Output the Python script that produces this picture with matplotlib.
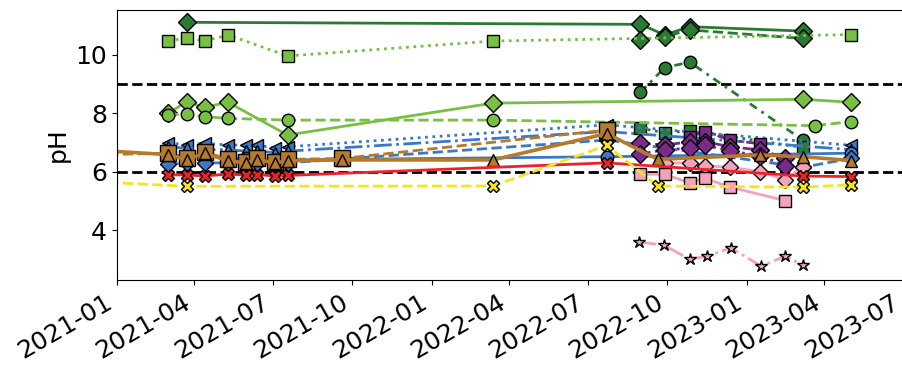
import pandas as pd
import numpy as np
import matplotlib
matplotlib.use('Agg')
import matplotlib.pyplot as plt
import matplotlib.dates as mdates

# sampling dates
spring21 = ['2021-03-02', '2021-03-23', '2021-04-13', '2021-05-10',
            '2021-05-31', '2021-06-13', '2021-07-04', '2021-07-18']
green21 = ['2021-03-02', '2021-03-23', '2021-04-13', '2021-05-10', '2021-07-18']
autumn22 = ['2022-08-31', '2022-09-28', '2022-10-27', '2022-11-14',
            '2022-12-13', '2023-01-17', '2023-02-15', '2023-03-07']

# pH per site
dg_dia_solid_d = ['2021-03-23', '2022-08-31', '2022-09-28', '2022-10-27', '2023-03-07']
dg_dia_solid = [11.1, 11.03, 10.67, 10.95, 10.8]
dg_dia_dash_d = ['2022-08-31', '2022-09-28', '2022-10-27', '2023-03-07']
dg_dia_dash = [10.5, 10.61, 10.84, 10.55]
dg_circ_d = ['2022-08-31', '2022-09-28', '2022-10-27', '2023-03-07']
dg_circ = [8.71, 9.55, 9.74, 7.08]
dg_sq_d = ['2022-08-31', '2022-09-28', '2022-10-27', '2023-03-07']
dg_sq = [7.48, 7.33, 7.4, 6.83]

lg_sq_d = green21 + ['2022-03-13', '2023-05-02']
lg_sq = [10.46, 10.57, 10.46, 10.67, 9.95, 10.46, 10.68]
lg_dia_d = green21 + ['2022-03-13', '2023-03-07', '2023-05-02']
lg_dia = [7.99, 8.39, 8.2, 8.37, 7.25, 8.34, 8.47, 8.37]
lg_circ_d = green21 + ['2022-03-13', '2023-03-21', '2023-05-02']
lg_circ = [7.94, 7.97, 7.88, 7.82, 7.76, 7.76, 7.57, 7.71]

bl_tri_d = spring21 + ['2022-07-23', '2023-05-02']
bl_tri = [6.99, 6.91, 6.97, 6.91, 6.91, 6.91, 6.8, 6.85, 7.6, 6.9]
bl_up_d = spring21 + ['2022-07-23', '2023-05-02']
bl_up = [6.85, 6.8, 6.75, 6.75, 6.7, 6.7, 6.65, 6.7, 7.37, 6.75]
bl_circ_d = spring21 + ['2022-07-23', '2023-05-02']
bl_circ = [6.6, 6.5, 6.55, 6.45, 6.45, 6.4, 6.4, 6.4, 6.51, 6.63]
bl_dia_d = spring21 + ['2022-07-23', '2023-03-07', '2023-05-02']
bl_dia = [6.25, 6.3, 6.3, 6.3, 6.25, 6.3, 6.25, 6.3, 7.08, 6.15, 6.45]

br_sq_d = ['2020-11-01'] + spring21 + ['2021-09-19', '2022-07-23']
br_sq = [6.55, 6.63, 6.46, 6.68, 6.42, 6.34, 6.46, 6.34, 6.42, 6.45, 7.42]
br_tri_d = (['2020-11-01'] + spring21 +
            ['2021-09-19', '2022-03-13', '2022-07-23', '2022-09-20',
             '2023-01-17', '2023-03-07', '2023-05-02'])
br_tri = [6.8, 6.58, 6.41, 6.63, 6.37, 6.3, 6.41, 6.3, 6.37,
          6.4, 6.4, 7.3, 6.42, 6.57, 6.51, 6.38]

red_d = spring21 + ['2022-07-23', '2023-03-07', '2023-05-02']
red = [5.89, 5.89, 5.85, 5.92, 5.88, 5.9, 5.85, 5.87, 6.3, 5.85, 5.83]
yel_d = ['2020-11-01', '2021-03-23', '2022-03-13', '2022-07-23',
         '2022-09-20', '2023-03-07', '2023-05-02']
yel = [5.71, 5.5, 5.51, 6.9, 5.51, 5.47, 5.55]

pu_dia_d = autumn22[:7]
pu_dia = [6.97, 6.91, 7.02, 7.02, 6.85, 6.74, 6.46]
pu_dia2_d = autumn22[:7]
pu_dia2 = [6.6, 6.75, 6.8, 6.9, 6.7, 6.55, 6.2]
pu_sq_d = ['2022-10-27', '2022-11-14', '2022-12-13', '2023-01-17']
pu_sq = [7.2, 7.37, 7.08, 6.95]

pk_sq_d = ['2022-08-31', '2022-09-28', '2022-10-27', '2022-11-14',
           '2022-12-13', '2023-02-15']
pk_sq = [5.91, 5.91, 5.62, 5.77, 5.47, 5.01]
pk_dia_d = ['2022-09-28', '2022-10-27', '2022-11-14', '2022-12-13',
            '2023-01-17', '2023-02-15', '2023-03-07']
pk_dia = [6.29, 6.3, 6.2, 6.15, 6.0, 5.72, 6.17]
pk_star_d = ['2022-08-29', '2022-09-27', '2022-10-27', '2022-11-16',
             '2022-12-14', '2023-01-18', '2023-02-15', '2023-03-07']
pk_star = [3.6, 3.49, 3.01, 3.11, 3.4, 2.77, 3.12, 2.8]

dgreen = '#2a7a33'
lgreen = '#77c043'
blue = '#3a78c8'
brown = '#b57a2c'
red_c = '#ec2227'
yellow = '#f6e41c'
purple = '#7a2a8a'
pink = '#f4a2b9'

series = [
    (dg_dia_solid_d, dg_dia_solid, dgreen, 'D', '-', 9),
    (dg_dia_dash_d, dg_dia_dash, dgreen, 'D', '--', 9),
    (dg_circ_d, dg_circ, dgreen, 'o', (0, (3, 2, 1, 2)), 9),
    (dg_sq_d, dg_sq, dgreen, 's', ':', 9),
    (lg_sq_d, lg_sq, lgreen, 's', ':', 9),
    (lg_dia_d, lg_dia, lgreen, 'D', '-', 9),
    (lg_circ_d, lg_circ, lgreen, 'o', '--', 9),
    (bl_tri_d, bl_tri, blue, '<', ':', 9),
    (bl_up_d, bl_up, blue, '^', '-.', 9),
    (bl_circ_d, bl_circ, blue, 'o', '-', 9),
    (bl_dia_d, bl_dia, blue, 'D', '--', 8),
    (pk_dia_d, pk_dia, pink, 'D', '-', 8),
    (pu_sq_d, pu_sq, purple, 's', '-.', 9),
    (pu_dia_d, pu_dia, purple, 'D', '--', 9),
    (pu_dia2_d, pu_dia2, purple, 'D', ':', 9),
    (br_sq_d, br_sq, brown, 's', '--', 11),
    (br_tri_d, br_tri, brown, '^', '-', 9),
    (pk_sq_d, pk_sq, pink, 's', '-', 9),
    (pk_star_d, pk_star, pink, '*', '-.', 9),
    (red_d, red, red_c, 'X', '-', 9),
    (yel_d, yel, yellow, 'X', '--', 9),
]

fig = plt.figure(figsize=(9.02, 3.73), dpi=100)
ax = fig.add_axes([0.1293, 0.2493, 0.8716, 0.7239])

ax.axhline(9, color='k', ls='--', lw=2, zorder=1)
ax.axhline(6, color='k', ls='--', lw=2, zorder=1)

for d, v, c, m, ls, ms in series:
    lw = 2.6 if c == brown and ls == '-' else 2
    ax.plot(pd.to_datetime(d), v, color=c, marker=m, ls=ls, lw=lw,
            ms=ms, mec='k', mew=1, zorder=2)

ax.set_xlim(pd.Timestamp('2021-01-01'), pd.Timestamp('2023-07-01'))
ax.set_ylim(2.3, 11.52)
ax.set_yticks([4, 6, 8, 10])
ax.xaxis.set_major_locator(mdates.MonthLocator(bymonth=[1, 4, 7, 10]))
ax.xaxis.set_major_formatter(mdates.DateFormatter('%Y-%m'))
ax.tick_params(labelsize=18)
plt.setp(ax.get_xticklabels(), rotation=30, ha='right')
ax.set_ylabel('pH', fontsize=18)

fig.savefig('out.png', dpi=100)
